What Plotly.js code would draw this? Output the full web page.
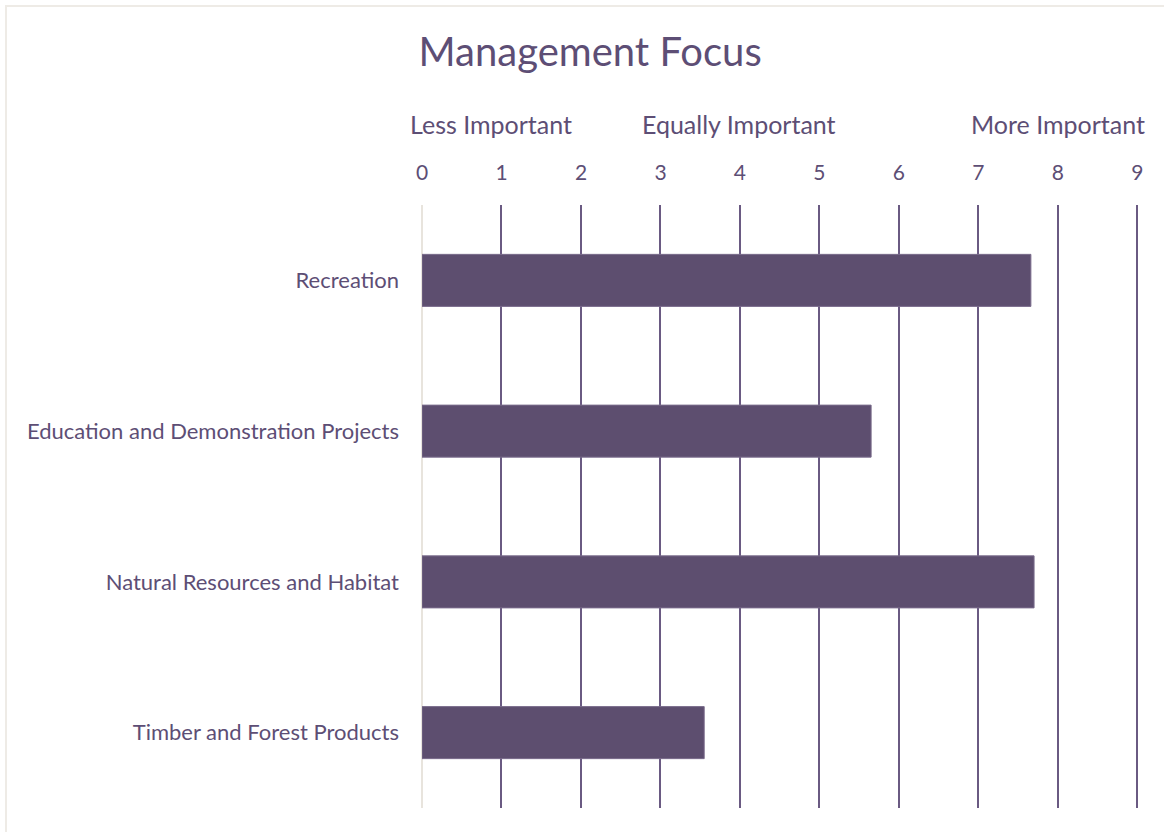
<!DOCTYPE html>
<html>
<head>
<meta charset="utf-8">
<script src="https://cdn.plot.ly/plotly-3.0.1.min.js"></script>
<style>
  html, body { margin: 0; padding: 0; background: #fff; }
  #wrap { position: relative; width: 1164px; height: 832px; }
  #chart { width: 1164px; height: 832px; }
  #frame { position: absolute; left: 5px; top: 5px; right: -10px; bottom: -10px;
           border: 2px solid #eeebe6; pointer-events: none; }
</style>
</head>
<body>
<div id="wrap">
  <div id="chart"></div>
  <div id="frame"></div>
</div>
<script>
// Management focus ratings (0-9 scale)
const categories = [
  'Recreation',
  'Education and Demonstration Projects',
  'Natural Resources and Habitat',
  'Timber and Forest Products'
];
const scores = [7.66, 5.65, 7.70, 3.55];
const tickVals = [0, 1, 2, 3, 4, 5, 6, 7, 8, 9];
const scaleLabels = ['Less Important', 'Equally Important', 'More Important'];
const scaleLabelPos = [0.87, 3.99, 8.0];

const textColor = '#5d4e75';
const barColor = '#5d4e6f';
const gridColor = '#6a5a82';
const fontFamily = 'Lato, "Open Sans", sans-serif';

const plotEl = document.getElementById('chart');

Plotly.newPlot(
  plotEl,
  [
    {
      type: 'bar',
      orientation: 'h',
      x: scores,
      y: categories,
      width: 0.345,
      marker: { color: barColor, line: { color: '#7a6c8c', width: 1 } },
      hoverinfo: 'x+y'
    }
  ],
  {
    width: 1164,
    height: 832,
    margin: { l: 422, r: 25, t: 205, b: 24 },
    paper_bgcolor: '#ffffff',
    plot_bgcolor: '#ffffff',
    font: { family: fontFamily, color: textColor, size: 20 },
    showlegend: false,
    title: {
      text: 'Management Focus',
      x: 0.507,
      xanchor: 'center',
      y: 0.937,
      yanchor: 'middle',
      font: { size: 40, color: textColor, family: fontFamily }
    },
    xaxis: {
      range: [0, 9.02],
      side: 'top',
      tickvals: tickVals,
      showgrid: true,
      gridcolor: gridColor,
      gridwidth: 2,
      zeroline: true,
      zerolinecolor: '#e8e4dd',
      zerolinewidth: 2,
      showline: false,
      ticks: '',
      ticklabelstandoff: 20,
      tickfont: { size: 21, color: textColor },
      fixedrange: true
    },
    yaxis: {
      autorange: 'reversed',
      showgrid: false,
      zeroline: false,
      showline: false,
      ticks: '',
      ticklabelstandoff: 22,
      tickfont: { size: 22, color: textColor },
      fixedrange: true
    },
    annotations: scaleLabels.map((t, i) => ({
      text: t,
      x: scaleLabelPos[i],
      xref: 'x',
      y: 1.135,
      yref: 'paper',
      xanchor: 'center',
      yanchor: 'middle',
      showarrow: false,
      font: { size: 25, color: textColor, family: fontFamily }
    }))
  },
  { displayModeBar: false, staticPlot: true }
);
</script>
</body>
</html>
